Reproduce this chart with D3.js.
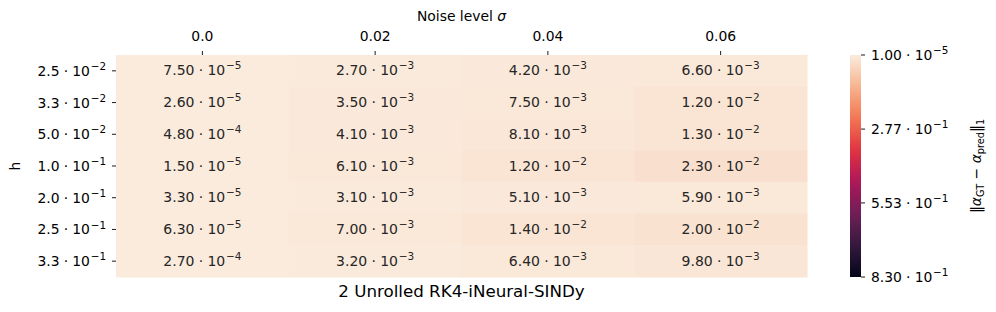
<!DOCTYPE html>
<html>
<head>
<meta charset="utf-8">
<script src="https://cdn.jsdelivr.net/npm/d3@7"></script>
<style>
  body { margin: 0; background: #fff; }
  text { font-family: "DejaVu Sans", sans-serif; }
</style>
</head>
<body>
<div class="chart"></div>
<script>
// heatmap of coefficient errors, rows = step size h, cols = noise level
var noiseLevels = ["0.0", "0.02", "0.04", "0.06"];
var hLabels = [["2.5", -2], ["3.3", -2], ["5.0", -2], ["1.0", -1], ["2.0", -1], ["2.5", -1], ["3.3", -1]];
var errValues = [
    [7.5e-5, 2.7e-3, 4.2e-3, 6.6e-3],
    [2.6e-5, 3.5e-3, 7.5e-3, 1.2e-2],
    [4.8e-4, 4.1e-3, 8.1e-3, 1.3e-2],
    [1.5e-5, 6.1e-3, 1.2e-2, 2.3e-2],
    [3.3e-5, 3.1e-3, 5.1e-3, 5.9e-3],
    [6.3e-5, 7.0e-3, 1.4e-2, 2.0e-2],
    [2.7e-4, 3.2e-3, 6.4e-3, 9.8e-3]
];
var vMin = 1e-5, vMax = 0.83;
var cbarTicks = [1.00e-5, 2.77e-1, 5.53e-1, 8.30e-1];
var title = "2 Unrolled RK4-iNeural-SINDy";

// rocket colormap stops (seaborn), used reversed
var rocketStops = ["#03051a", "#35193e", "#701f57", "#ad1759", "#e13342", "#f37651", "#f6b48f", "#faebdd"];

var W = 996, H = 312;
var margin = {left: 116, top: 55, right: 189, bottom: 35};
var width = W - margin.left - margin.right,   // 691
    height = H - margin.top - margin.bottom;  // 222

var rocket = d3.scaleLinear()
    .domain(d3.range(rocketStops.length).map(function(i) { return i / (rocketStops.length - 1); }))
    .range(rocketStops)
    .interpolate(d3.interpolateRgb);
// rocket_r: low values light
var color = function(v) { return rocket(1 - (v - vMin) / (vMax - vMin)); };

var x = d3.scaleBand().domain(d3.range(noiseLevels.length)).range([0, width]);
var y = d3.scaleBand().domain(d3.range(hLabels.length)).range([0, height]);

var svg = d3.select(".chart").append("svg")
    .attr("width", W)
    .attr("height", H);

var g = svg.append("g")
    .attr("transform", "translate(" + margin.left + "," + margin.top + ")");

// helper: "m · 10^e" as svg text with superscript (mathtext-like spacing)
function sciText(sel, mant, exp, fs) {
    sel.append("tspan").text(mant);
    sel.append("tspan").text("\u00b7").attr("dx", fs * 0.3);
    sel.append("tspan").text("10").attr("dx", fs * 0.3);
    sel.append("tspan").text("\u2212" + Math.abs(exp))
        .attr("font-size", fs * 0.75)
        .attr("dx", fs * 0.05)
        .attr("dy", -fs * 0.42);
}
function splitSci(v) {
    var e = Math.floor(Math.log10(v) + 1e-9);
    var m = v / Math.pow(10, e);
    return [m.toFixed(2), e];
}

// cells
var cells = [];
errValues.forEach(function(row, i) {
    row.forEach(function(v, j) { cells.push({r: i, c: j, v: v}); });
});

g.selectAll(".cell")
    .data(cells)
    .enter().append("rect")
    .attr("class", "cell")
    .attr("x", function(d) { return x(d.c); })
    .attr("y", function(d) { return y(d.r); })
    .attr("width", x.bandwidth() + 0.5)
    .attr("height", y.bandwidth() + 0.5)
    .attr("fill", function(d) { return color(d.v); });

var annFs = 14;
g.selectAll(".ann")
    .data(cells)
    .enter().append("text")
    .attr("class", "ann")
    .attr("x", function(d) { return x(d.c) + x.bandwidth() / 2; })
    .attr("y", function(d) { return y(d.r) + y.bandwidth() / 2 + 4.5; })
    .attr("text-anchor", "middle")
    .attr("font-size", annFs)
    .attr("fill", "#262626")
    .each(function(d) {
        var s = splitSci(d.v);
        sciText(d3.select(this), s[0], s[1], annFs);
    });

// top axis
var tickFs = 13.9;
noiseLevels.forEach(function(lab, j) {
    var cx = x(j) + x.bandwidth() / 2;
    g.append("line")
        .attr("x1", cx).attr("x2", cx)
        .attr("y1", -4).attr("y2", 0)
        .attr("stroke", "#000").attr("stroke-width", 0.9);
    g.append("text")
        .attr("x", cx).attr("y", -14)
        .attr("text-anchor", "middle")
        .attr("font-size", tickFs)
        .text(lab);
});
var xl = svg.append("text")
    .attr("x", margin.left + width / 2).attr("y", 21)
    .attr("text-anchor", "middle")
    .attr("font-size", tickFs);
xl.append("tspan").text("Noise level ");
xl.append("tspan").text("\u03c3").attr("font-style", "italic");

// left axis
hLabels.forEach(function(lab, i) {
    var cy = y(i) + y.bandwidth() / 2;
    g.append("line")
        .attr("x1", -4).attr("x2", 0)
        .attr("y1", cy).attr("y2", cy)
        .attr("stroke", "#000").attr("stroke-width", 0.9);
    var t = g.append("text")
        .attr("x", -10).attr("y", cy + 5)
        .attr("text-anchor", "end")
        .attr("font-size", tickFs);
    sciText(t, lab[0], lab[1], tickFs);
});
svg.append("text")
    .attr("transform", "translate(20," + (margin.top + height / 2) + ") rotate(-90)")
    .attr("text-anchor", "middle")
    .attr("font-size", tickFs)
    .text("h");

// title under the map
svg.append("text")
    .attr("x", margin.left + width / 2).attr("y", 297)
    .attr("text-anchor", "middle")
    .attr("font-size", 16.7)
    .text(title);

// colorbar
var cbX = 850, cbW = 11;
var cbY = d3.scaleLinear().domain([vMin, vMax]).range([margin.top, margin.top + height]);
var grad = svg.append("defs").append("linearGradient")
    .attr("id", "cbgrad")
    .attr("x1", 0).attr("y1", 0).attr("x2", 0).attr("y2", 1);
d3.range(0, 1.0001, 0.05).forEach(function(t) {
    grad.append("stop")
        .attr("offset", t)
        .attr("stop-color", color(vMin + t * (vMax - vMin)));
});
svg.append("rect")
    .attr("x", cbX).attr("y", cbY(vMin))
    .attr("width", cbW).attr("height", cbY(vMax) - cbY(vMin))
    .attr("fill", "url(#cbgrad)");

cbarTicks.forEach(function(v) {
    var ty = cbY(v);
    svg.append("line")
        .attr("x1", cbX + cbW).attr("x2", cbX + cbW + 4)
        .attr("y1", ty).attr("y2", ty)
        .attr("stroke", "#000").attr("stroke-width", 0.9);
    var s = splitSci(v);
    var t = svg.append("text")
        .attr("x", cbX + cbW + 10).attr("y", ty + 5)
        .attr("font-size", tickFs);
    sciText(t, s[0], s[1], tickFs);
});

// colorbar label ||alpha_GT - alpha_pred||_1
var cl = svg.append("text")
    .attr("transform", "translate(981," + (margin.top + height / 2) + ") rotate(-90)")
    .attr("text-anchor", "middle")
    .attr("font-size", tickFs);
cl.append("tspan").text("\u2016");
cl.append("tspan").text("\u03b1").attr("font-style", "italic");
cl.append("tspan").text("GT").attr("font-size", tickFs * 0.7).attr("dy", 3);
cl.append("tspan").text(" \u2212 ").attr("dy", -3);
cl.append("tspan").text("\u03b1").attr("font-style", "italic");
cl.append("tspan").text("pred").attr("font-size", tickFs * 0.7).attr("dy", 3);
cl.append("tspan").text("\u2016").attr("dy", -3);
cl.append("tspan").text("1").attr("font-size", tickFs * 0.7).attr("dy", 3);
</script>
</body>
</html>
